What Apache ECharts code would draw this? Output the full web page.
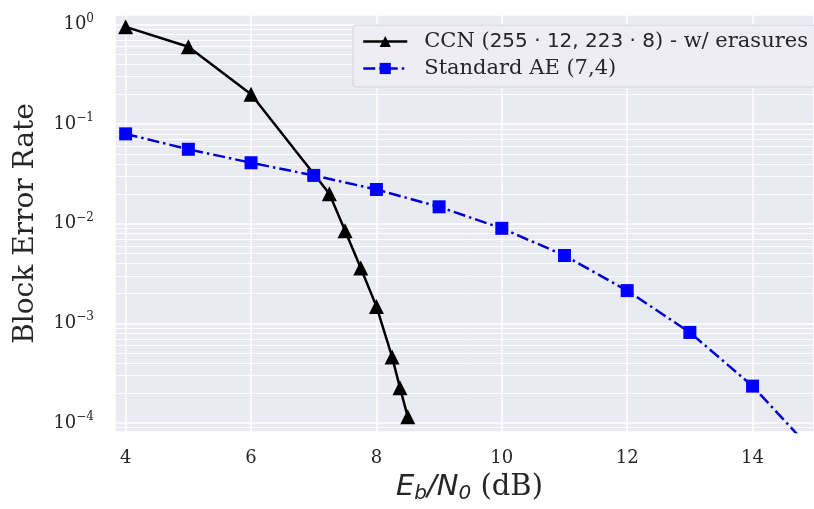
<!DOCTYPE html>
<html>
<head>
<meta charset="utf-8">
<script src="https://cdn.jsdelivr.net/npm/echarts@6/dist/echarts.min.js"></script>
<style>
html, body { margin: 0; padding: 0; background: #fff; }
#chart { width: 814px; height: 509px; }
</style>
</head>
<body>
<div id="chart"></div>
<script>
// data
const ccnName = 'CCN (255·12, 223·8) - w/ erasures'
const ccnX = [4, 5, 6, 7.25, 7.5, 7.75, 8, 8.25, 8.375, 8.5]
const ccnY = [0.95, 0.6, 0.2, 0.02, 0.0085, 0.0036, 0.00148, 0.00046, 0.000226, 0.000115]

const aeName = 'Standard AE (7,4)'
const aeX = [4, 5, 6, 7, 8, 9, 10, 11, 12, 13, 14, 15]
const aeY = [0.08, 0.056, 0.041, 0.0306, 0.0221, 0.0148, 0.009, 0.0048, 0.00213, 0.00081, 0.000234, 0.000049]

const xMin = 3.83
const xMax = 14.98
const yMin = 8.1e-5
const yMax = 1.25

// minor grid lines of the log axis (2..9 per decade)
const minorLines = []
for (let k = -5; k <= 0; k++) {
  for (let m = 2; m <= 9; m++) {
    const v = m * Math.pow(10, k)
    if (v > yMin && v < yMax) minorLines.push({ yAxis: v })
  }
}

const serif = 'DejaVu Serif'
const sans = 'DejaVu Sans'
const ink = '#262626'

const chart = echarts.init(document.getElementById('chart'))

const option = {
  animation: false,
  backgroundColor: '#fff',
  grid: {
    left: 115,
    top: 15,
    right: 0,
    bottom: 68,
    show: true,
    backgroundColor: '#EAEAF2',
    borderWidth: 0
  },
  legend: {
    data: [ccnName, aeName],
    orient: 'vertical',
    left: 353,
    top: 25,
    padding: [6, 8, 8, 9],
    itemGap: 6,
    itemWidth: 44,
    itemHeight: 14,
    backgroundColor: '#EDEDF3',
    borderColor: '#D2D2DA',
    borderWidth: 1,
    borderRadius: 3,
    lineStyle: { width: 2.5 },
    formatter: function (name) {
      if (name === ccnName) {
        return '{s0|CCN (}{m|255 · 12, 223 · 8}{s|) - w/ erasures}'
      }
      return '{s0|Standard AE (7,4)}'
    },
    textStyle: {
      color: ink,
      rich: {
        s0: { fontFamily: serif, fontSize: 21, lineHeight: 22, color: ink, padding: [0, 0, 0, 12] },
        s: { fontFamily: serif, fontSize: 21, lineHeight: 22, color: ink },
        m: { fontFamily: sans, fontSize: 20, lineHeight: 22, color: ink }
      }
    }
  },
  xAxis: {
    type: 'value',
    min: xMin,
    max: xMax,
    splitNumber: 5,
    name: '{i|E}{sub|b}{i|/N}{sub|0}{r| (dB)}',
    nameLocation: 'middle',
    nameGap: 38,
    nameTextStyle: {
      padding: [0, 0, 0, 10],
      rich: {
        i: { fontFamily: sans, fontStyle: 'italic', fontSize: 29, lineHeight: 34, color: ink },
        sub: { fontFamily: sans, fontStyle: 'italic', fontSize: 20, lineHeight: 19, verticalAlign: 'bottom', color: ink },
        r: { fontFamily: serif, fontSize: 29, lineHeight: 34, color: ink }
      }
    },
    axisLine: { show: false },
    axisTick: { show: false },
    axisLabel: {
      showMinLabel: false,
      showMaxLabel: false,
      margin: 17,
      fontFamily: serif,
      fontSize: 18,
      color: ink
    },
    splitLine: { show: true, lineStyle: { color: '#fff', width: 1.5 } }
  },
  yAxis: {
    type: 'log',
    logBase: 10,
    min: yMin,
    max: yMax,
    name: 'Block Error Rate',
    nameLocation: 'middle',
    nameGap: 75,
    nameTextStyle: { fontFamily: serif, fontSize: 28, color: ink },
    axisLine: { show: false },
    axisTick: { show: false },
    axisLabel: {
      showMinLabel: false,
      showMaxLabel: false,
      margin: 21,
      formatter: function (v) {
        const e = Math.round(Math.log10(v))
        return '{b|10}{s|' + (e < 0 ? '\u2212' + (-e) : e) + '}'
      },
      rich: {
        b: { fontFamily: serif, fontSize: 18, lineHeight: 24, color: ink },
        s: { fontFamily: serif, fontSize: 12, lineHeight: 12, verticalAlign: 'top', color: ink }
      }
    },
    splitLine: { show: true, lineStyle: { color: '#fff', width: 1.5 } }
  },
  series: [
    {
      type: 'line',
      name: 'minor-grid',
      data: [],
      z: 1,
      silent: true,
      markLine: {
        z: 1,
        silent: true,
        precision: 12,
        symbol: 'none',
        label: { show: false },
        lineStyle: { color: '#fff', width: 1, type: 'solid' },
        emphasis: { disabled: true },
        data: minorLines
      }
    },
    {
      type: 'line',
      name: ccnName,
      data: ccnX.map((x, i) => [x, ccnY[i]]),
      z: 3,
      symbol: 'triangle',
      symbolSize: 15,
      color: '#000',
      itemStyle: { color: '#000' },
      lineStyle: { color: '#000', width: 2.5 }
    },
    {
      type: 'line',
      name: aeName,
      data: aeX.map((x, i) => [x, aeY[i]]),
      z: 4,
      symbol: 'rect',
      symbolSize: 13,
      color: '#0000FF',
      itemStyle: { color: '#0000FF' },
      lineStyle: { color: '#0000CC', width: 2.5, type: [12, 4, 2.5, 4] }
    }
  ]
}

chart.setOption(option)
</script>
</body>
</html>
